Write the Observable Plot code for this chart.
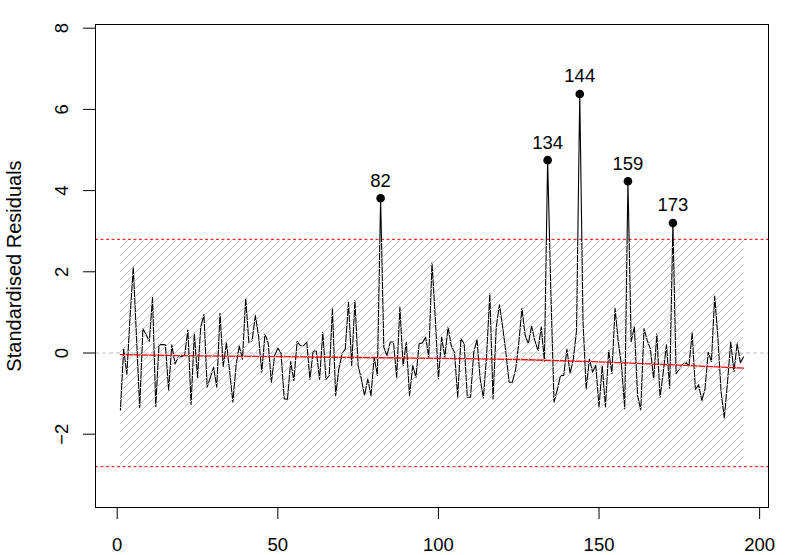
<!DOCTYPE html>
<html><head><meta charset="utf-8">
<script src="https://cdn.jsdelivr.net/npm/d3@7"></script>
<script src="https://cdn.jsdelivr.net/npm/@observablehq/plot@0.6"></script>
<style>body{margin:0;background:#fff} svg{display:block}</style>
</head><body><div id="chart"></div>
<script>
// Standardised residuals, observations 1..195
const residuals = [
  -1.40, 0.10, -0.53, 0.90, 2.10, 0.40, -1.35, 0.60, 0.45, 0.29,
  1.37, -1.32, 0.20, 0.21, 0.20, -0.91, 0.20, -0.27, -0.10, -0.09,
  -0.05, 0.57, -1.27, 0.49, -0.60, 0.64, 0.95, -0.84, -0.60, -0.35,
  -0.84, 0.98, -0.33, 0.25, -0.45, -1.21, -0.30, 0.17, -0.15, 1.35,
  0.25, 0.31, 0.92, 0.43, -0.47, 0.47, 0.25, -0.72, -0.06, 0.12,
  0.00, -1.13, -1.14, -0.21, -0.68, 0.28, 0.18, 0.18, 0.28, -0.65,
  0.05, 0.05, -0.65, 0.51, -0.65, -0.55, 1.09, -1.05, -0.39, -0.02,
  0.10, 1.25, -0.31, 1.29, -0.31, -0.64, -1.05, -0.64, -1.05, -0.10,
  -0.55, 3.81, 0.14, -0.06, 0.27, 0.27, -0.60, 1.13, -0.31, 0.27,
  -1.05, -0.31, -0.60, 0.23, 0.25, 0.39, -0.10, 2.22, 0.90, -0.64,
  0.39, -0.10, 0.64, 0.18, 0.02, -1.09, 0.35, 0.23, -1.09, -1.09,
  0.02, 0.33, -0.64, -1.11, -0.06, 1.46, -1.13, 0.64, 1.19, 0.64,
  0.02, -0.72, -0.72, -0.43, 0.23, 1.10, 0.43, 0.23, 0.66, 0.31,
  0.06, 0.64, -0.20, 4.75, 1.50, -1.21, -0.90, -0.56, -0.55, 0.10,
  -0.50, -0.15, 0.55, 6.38, 0.80, -0.88, -0.15, -0.47, -0.31, -1.33,
  -0.31, -1.33, 0.06, -0.51, 1.10, 0.27, -0.31, -1.37, 4.23, 0.28,
  0.64, -1.05, -1.40, 0.60, 0.31, 0.10, -0.64, 0.47, -1.09, -0.47,
  0.20, -0.87, 3.20, -0.51, -0.39, -0.29, -0.23, -0.31, 0.50, -0.90,
  -0.78, -1.17, -0.88, 0.02, -0.21, 1.40, 0.39, -0.96, -1.60, -0.72,
  0.27, -0.46, 0.23, -0.23, -0.10
];
const outlierIndex = [82, 134, 144, 159, 173];
// smooth (red) trend line
const smoothX = [1, 25, 50, 75, 100, 125, 150, 175, 195];
const smoothY = [-0.04, -0.07, -0.09, -0.11, -0.13, -0.16, -0.22, -0.30, -0.37];
const bandX = [1, 195];
const bandY = [-2.75, 2.75];
const cutoffs = [-2.8, 2.8];
const zeroLine = [0];
const xTicks = [0, 50, 100, 150, 200];
const yTicks = [-2, 0, 2, 4, 6, 8];
const yTitle = "Standardised Residuals";

const series = residuals.map((v, i) => ({x: i + 1, y: v}));
const outliers = outlierIndex.map(k => ({x: k, y: residuals[k - 1]}));
const smooth = smoothX.map((x, i) => ({x, y: smoothY[i]}));
const band = [{x1: bandX[0], x2: bandX[1], y1: bandY[0], y2: bandY[1]}];

const chart = Plot.plot({
  width: 793, height: 555,
  marginLeft: 95, marginRight: 25, marginTop: 24, marginBottom: 48,
  x: {domain: [-6.76, 202.76]},
  y: {domain: [-3.805, 8.091]},
  style: {fontFamily: "'Liberation Sans', Arial, Helvetica, sans-serif", fontSize: "18.5px", background: "white", color: "black"},
  marks: [
    Plot.ruleY(zeroLine, {stroke: "#bebebe", strokeDasharray: "4,3"}),
    Plot.ruleY(cutoffs, {stroke: "red", strokeDasharray: "3,2.5"}),
    Plot.line(series, {x: "x", y: "y", stroke: "black", strokeWidth: 1.1}),
    Plot.line(smooth, {x: "x", y: "y", stroke: "red", strokeWidth: 1.3}),
    Plot.rect(band, {x1: "x1", x2: "x2", y1: "y1", y2: "y2", fill: "url(#hatch)"}),
    Plot.dot(outliers, {x: "x", y: "y", r: 4.3, fill: "black"}),
    Plot.text(outliers, {x: "x", y: "y", text: d => String(d.x), dy: -11.6, lineAnchor: "bottom", fill: "black"}),
    Plot.axisX({ticks: xTicks, tickSize: 12, tickPadding: 18, tickFormat: d => String(d), label: null}),
    Plot.axisY({ticks: yTicks, tickSize: 12, tickFormat: () => "", label: null}),
    Plot.text(yTicks, {y: d => d, text: d => d < 0 ? "\u2212" + Math.abs(d) : String(d), frameAnchor: "left", textAnchor: "middle", dx: -33, rotate: -90, fill: "black"}),
    Plot.text([yTitle], {text: d => d, frameAnchor: "left", textAnchor: "middle", dx: -81, rotate: -90, fontSize: 20, fill: "black"}),
    Plot.frame({stroke: "black"})
  ]
});

const svg = d3.select(chart);
const defs = svg.insert("defs", ":first-child");
const pat = defs.append("pattern").attr("id", "hatch")
  .attr("patternUnits", "userSpaceOnUse").attr("width", 8).attr("height", 8);
pat.append("path").attr("d", "M-2,2 L2,-2 M0,8 L8,0 M6,10 L10,6")
  .attr("stroke", "#c8c8c8").attr("stroke-width", 1).attr("fill", "none");
document.getElementById("chart").appendChild(chart);
</script>
</body></html>
